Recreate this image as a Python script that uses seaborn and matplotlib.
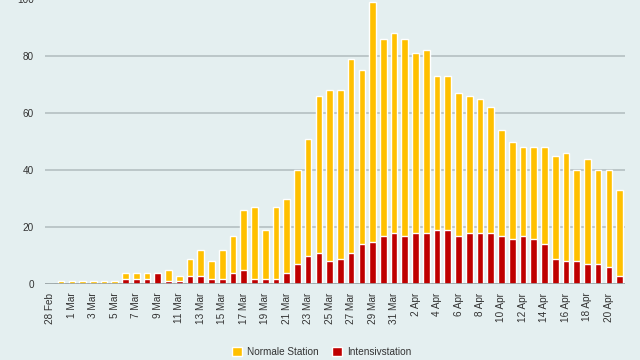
import pandas as pd
import matplotlib.pyplot as plt
import seaborn as sns
from matplotlib.patches import Patch

# Values (28 Feb - 21 Apr)
dates = pd.date_range('2020-02-28', '2020-04-21', freq='D')
total = [0, 1, 1, 1, 1, 1, 1, 4, 4, 4, 4, 5, 3, 9, 12, 8, 12, 17, 26, 27,
         19, 27, 30, 40, 51, 66, 68, 68, 79, 75, 99, 86, 88, 86, 81, 82, 73, 73,
         67, 66, 65, 62, 54, 50, 48, 48, 48, 45, 46, 40, 44, 40, 40, 33]
intensive = [0, 0, 0, 0, 0, 0, 0, 2, 2, 2, 4, 1, 1, 3, 3, 2, 2, 4, 5, 2,
             2, 2, 4, 7, 10, 11, 8, 9, 11, 14, 15, 17, 18, 17, 18, 18, 19, 19,
             17, 18, 18, 18, 17, 16, 17, 16, 14, 9, 8, 8, 7, 7, 6, 3]
labels = [f'{d.day} {d.strftime("%b")}' for d in dates]

df = pd.DataFrame({'Datum': labels, 'Total': total, 'Intensiv': intensive})

bg = '#e4eff0'
yellow = '#ffc000'
red = '#bf0000'

sns.set_style('white')
plt.rcParams['font.family'] = ['Liberation Sans', 'DejaVu Sans']

fig = plt.figure(figsize=(6.4, 3.6), dpi=100, facecolor=bg)
ax = fig.add_axes([45 / 640, 1 - 284.3 / 360, 580 / 640, 285.3 / 360])
ax.set_facecolor(bg)

sns.barplot(data=df, x='Datum', y='Total', color=yellow, width=0.62,
            saturation=1, ax=ax, zorder=3)
sns.barplot(data=df, x='Datum', y='Intensiv', color=red, width=0.62,
            saturation=1, ax=ax, zorder=4)

ax.set_xlim(-0.5, len(dates) - 0.5)
ax.set_ylim(0, 100)
ax.set_yticks([0, 20, 40, 60, 80, 100])
ax.yaxis.grid(True, color='#b4bfc2', linewidth=1.2, zorder=0)
ax.axhline(0, color='#9aa4a7', linewidth=1.2, zorder=5)
for s in ax.spines.values():
    s.set_visible(False)

ax.set_xticks(range(0, len(dates), 2))
ax.set_xticklabels(labels[::2], rotation=90, fontsize=7.2, color='#333333')
ax.tick_params(axis='y', labelsize=7.2, labelcolor='#333333', length=0, pad=8)
ax.tick_params(axis='x', length=0, pad=6)
ax.set_xlabel('')
ax.set_ylabel('')

handles = [Patch(facecolor=yellow, label='Normale Station'),
           Patch(facecolor=red, label='Intensivstation')]
fig.legend(handles=handles, loc='center', bbox_to_anchor=(0.503, 0.022), ncol=2,
           frameon=False, fontsize=7.2, handlelength=1.0, handleheight=1.0,
           handletextpad=0.5, columnspacing=1.3, labelcolor='#333333')

fig.savefig('out.png', dpi=100, facecolor=bg)
